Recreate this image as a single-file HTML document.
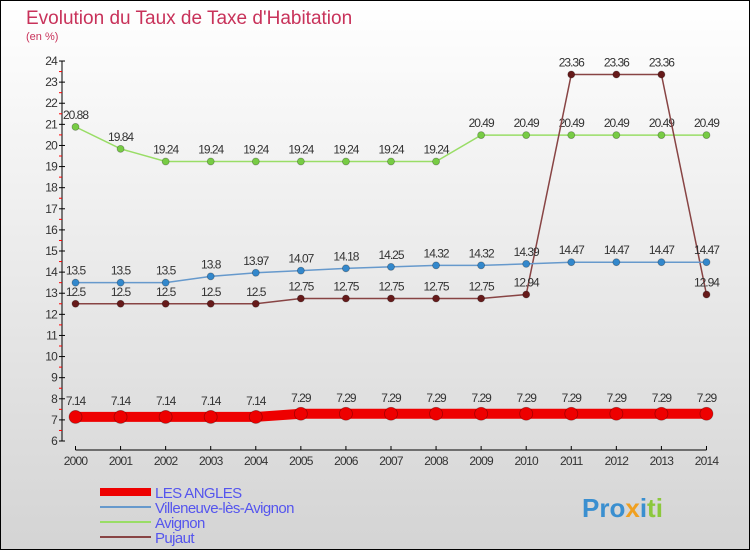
<!DOCTYPE html>
<html><head><meta charset="utf-8"><style>
body{margin:0;width:750px;height:550px;overflow:hidden;font-family:"Liberation Sans",sans-serif}
svg{display:block}
</style></head><body>
<svg width="750" height="550" xmlns="http://www.w3.org/2000/svg">
<defs><linearGradient id="bg" x1="0" y1="0" x2="0" y2="1"><stop offset="0" stop-color="#ffffff"/><stop offset="1" stop-color="#d4d4d4"/></linearGradient></defs>
<rect x="0.5" y="0.5" width="749" height="549" fill="url(#bg)" stroke="#000"/>
<text x="26" y="24" font-size="19" fill="#c8325a">Evolution du Taux de Taxe d'Habitation</text>
<text x="26" y="40" font-size="11" fill="#c8325a">(en %)</text>
<g id="axes"></g>
<g id="series"></g>
<g id="legend"></g>
<text x="582" y="517" font-size="26" font-weight="bold" fill="#3a8fd0">Pro<tspan fill="#f0a020">x</tspan><tspan fill="#3a8fd0">i</tspan><tspan fill="#8cc83c">ti</tspan></text>
</svg>
<script>
const years=[2000,2001,2002,2003,2004,2005,2006,2007,2008,2009,2010,2011,2012,2013,2014];
const lesAngles=[7.14,7.14,7.14,7.14,7.14,7.29,7.29,7.29,7.29,7.29,7.29,7.29,7.29,7.29,7.29];
const villeneuve=[13.5,13.5,13.5,13.8,13.97,14.07,14.18,14.25,14.32,14.32,14.39,14.47,14.47,14.47,14.47];
const avignon=[20.88,19.84,19.24,19.24,19.24,19.24,19.24,19.24,19.24,20.49,20.49,20.49,20.49,20.49,20.49];
const pujaut=[12.5,12.5,12.5,12.5,12.5,12.75,12.75,12.75,12.75,12.75,12.94,23.36,23.36,23.36,12.94];
const yTicks=[6,7,8,9,10,11,12,13,14,15,16,17,18,19,20,21,22,23,24];
const NS='http://www.w3.org/2000/svg';
const X=i=>75.5+i*45.07;
const Y=v=>441-(v-6)*21.11;
function mk(tag,attrs,parent,txt){const e=document.createElementNS(NS,tag);for(const k in attrs)e.setAttribute(k,attrs[k]);if(txt!==undefined)e.textContent=txt;parent.appendChild(e);return e;}
const ax=document.getElementById('axes');
let e=mk('line',{x1:62,y1:Y(24),x2:62,y2:Y(6),stroke:'#000'},ax);

e=mk('line',{x1:X(0),y1:450,x2:X(14),y2:450,stroke:'#000'},ax);

yTicks.forEach(t=>{
 mk('line',{x1:59,y1:Y(t),x2:65,y2:Y(t),stroke:'#000'},ax);
 if(t<24) mk('line',{x1:59,y1:Y(t+0.5),x2:62,y2:Y(t+0.5),stroke:'#f00'},ax);
 e=mk('text',{x:57,y:Y(t)+4,'font-size':12,fill:'#333','text-anchor':'end','letter-spacing':'-0.8'},ax,t);
 
});
years.forEach((yr,i)=>{
 mk('line',{x1:X(i),y1:446,x2:X(i),y2:450,stroke:'#000'},ax);
 e=mk('text',{x:X(i),y:465,'font-size':12,fill:'#333','text-anchor':'middle','letter-spacing':'-0.8'},ax,yr);
 
});
const sg=document.getElementById('series');
function series(name,vals,color,dot,w,r,labelDy){
 const g=mk('g',{},sg);
 
 const pl=mk('polyline',{points:vals.map((v,i)=>X(i)+','+Y(v)).join(' '),fill:'none',stroke:color,'stroke-width':w},g);
 
 vals.forEach((v,i)=>{
  const c=mk('circle',{cx:X(i),cy:Y(v),r:r,fill:dot,stroke:'rgba(0,0,0,0.3)','stroke-width':0.8},g);
  
  const t=mk('text',{x:X(i),y:Y(v)+labelDy,'font-size':12,fill:'#333','text-anchor':'middle','letter-spacing':'-1'},g,String(v));
  
 });
}
series('avignon',avignon,'#99dd66','#77cc44',1.5,3.5,-8);
series('pujaut',pujaut,'#884444','#661a1a',1.5,3.5,-8);
series('villeneuve',villeneuve,'#6699cc','#3388cc',1.5,3.5,-8);
series('les-angles',lesAngles,'#ee0000','#ee0000',10,6.5,-12);
const lg=document.getElementById('legend');
const leg=[['LES ANGLES','#ee0000',8],['Villeneuve-lès-Avignon','#6699cc',2],['Avignon','#99dd66',2],['Pujaut','#884444',2]];
leg.forEach((l,i)=>{
 const y=492+i*15;
 e=mk('line',{x1:100,y1:y,x2:151,y2:y,stroke:l[1],'stroke-width':l[2]},lg);
 
 e=mk('text',{x:155,y:y+6,'font-size':15,fill:'#5555ee','letter-spacing':'-0.6'},lg,l[0]);
 
});
</script>
</body></html>
